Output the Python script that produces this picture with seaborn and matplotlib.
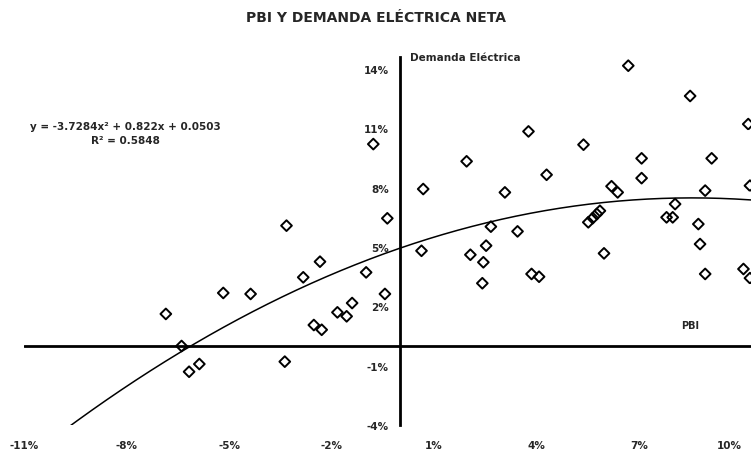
import numpy as np
import pandas as pd
import matplotlib
matplotlib.use("Agg")
import matplotlib.pyplot as plt
import seaborn as sns
from matplotlib.ticker import FuncFormatter

# ===============================
# DATA (values in %)
# ===============================
pbi = [
    -3.32, -0.37, -2.34, -2.83, -0.99, -5.17, -4.37, -0.44, -6.85, -1.40,
    -1.83, -1.56, -2.52, -2.29, -6.39, -3.37, -6.17, -5.87, -0.78,
    0.68, 0.63, 1.95, 3.76, 4.29, 3.07, 2.66, 3.44, 2.52, 2.06, 2.44,
    2.41, 3.85, 4.07,
    6.68, 8.49, 10.19, 5.37, 7.07, 9.12, 7.07, 10.24, 6.19, 6.37, 8.93,
    8.05, 7.80, 7.98, 8.73, 5.51, 5.64, 5.76, 5.85, 8.78, 5.97, 8.93,
    10.05, 10.24,
]
demanda = [
    6.08, 6.45, 4.26, 3.47, 3.72, 2.68, 2.63, 2.63, 1.62, 2.17,
    1.70, 1.50, 1.06, 0.82, 0.00, -0.79, -1.30, -0.91, 10.20,
    7.93, 4.81, 9.33, 10.84, 8.65, 7.76, 6.03, 5.79, 5.07, 4.61, 4.23,
    3.17, 3.64, 3.50,
    14.16, 12.63, 11.21, 10.17, 9.48, 9.48, 8.48, 8.10, 8.07, 7.76, 7.85,
    7.17, 6.50, 6.50, 6.16, 6.25, 6.46, 6.67, 6.83, 5.15, 4.68, 3.64,
    3.89, 3.43,
]
x_ticks = [-11, -8, -5, -2, 1, 4, 7, 10]
y_ticks = [-4, -1, 2, 5, 8, 11, 14]

title = "PBI Y DEMANDA ELÉCTRICA NETA"
eq_text = "y = -3.7284x² + 0.822x + 0.0503\nR² = 0.5848"

df = pd.DataFrame({"PBI": pbi, "Demanda": demanda})

# ===============================
# STYLE
# ===============================
sns.set_style("white")
plt.rcParams["font.family"] = ["Liberation Sans Narrow", "DejaVu Sans"]
plt.rcParams["font.weight"] = "bold"

fig = plt.figure(figsize=(7.51, 4.52), dpi=100)
ax = fig.add_axes([24 / 751, 0.0571, 728 / 751, 0.8146])

# ===============================
# SCATTER + TREND
# ===============================
sns.scatterplot(
    data=df, x="PBI", y="Demanda", ax=ax,
    marker="D", s=30, facecolor="none", edgecolor="black", linewidth=1.4,
    zorder=3
)

coef = np.polyfit(df["PBI"] / 100, df["Demanda"] / 100, 2)
xs = np.linspace(-11, 10.3, 300)
ys = np.polyval(coef, xs / 100) * 100
ax.plot(xs, ys, color="black", lw=1.1, zorder=2)

ax.set_xlim(-11, 10.3)
ax.set_ylim(-4, 14.6)

# axes through origin
for s in ["top", "right", "bottom"]:
    ax.spines[s].set_visible(False)
ax.spines["left"].set_position(("data", 0))
ax.spines["left"].set_linewidth(2)
ax.spines["left"].set_color("black")
ax.axhline(0, color="black", lw=2, zorder=1)

ax.set_xticks(x_ticks)
ax.set_yticks(y_ticks)
pct = FuncFormatter(lambda v, p: f"{v:.0f}%")
ax.xaxis.set_major_formatter(pct)
ax.yaxis.set_major_formatter(pct)
ax.tick_params(axis="x", length=0, pad=11, labelsize=7.5)
ax.tick_params(axis="y", length=0, pad=8, labelsize=7.5)
ax.set_xlabel("")
ax.set_ylabel("")

# keep the last x label inside the figure
fig.canvas.draw()
ax.get_xticklabels()[-1].set_horizontalalignment("right")

# ===============================
# TEXTS
# ===============================
fig.text(0.5, 1 - 18 / 452, title, ha="center", va="center",
         fontsize=10, fontweight="bold")
fig.text(410 / 751, 1 - 58 / 452, "Demanda Eléctrica", ha="left", va="center",
         fontsize=7.5, fontweight="bold")
fig.text(690 / 751, 1 - 326 / 452, "PBI", ha="center", va="center",
         fontsize=7, fontweight="bold")
fig.text(125 / 751, 1 - 134 / 452, eq_text, ha="center", va="center",
         fontsize=7.5, fontweight="bold", linespacing=1.6)

plt.savefig("out.png", dpi=100)
plt.close()
